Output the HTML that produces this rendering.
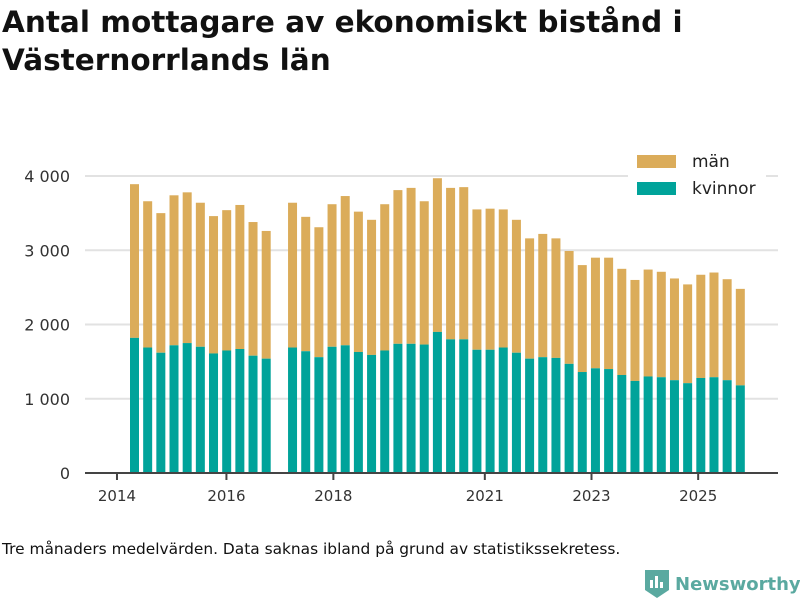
<!DOCTYPE html>
<html><head><meta charset="utf-8"><style>
body{margin:0;width:800px;height:600px;background:#fff;font-family:"DejaVu Sans","Liberation Sans",sans-serif;overflow:hidden;position:relative}
h1{position:absolute;left:2px;top:3px;margin:0;font-size:29.5px;line-height:38px;font-weight:bold;color:#111}
</style></head><body>
<h1>Antal mottagare av ekonomiskt bistånd i<br>Västernorrlands län</h1>
<svg id="c" width="800" height="600" style="position:absolute;left:0;top:0"></svg>
<script>
const women=[1820,1690,1620,1720,1750,1700,1610,1650,1670,1580,1540,null,1690,1640,1560,1700,1720,1630,1590,1650,1740,1740,1730,1900,1800,1800,1660,1660,1690,1620,1540,1560,1550,1470,1360,1410,1400,1320,1240,1300,1290,1250,1210,1280,1290,1250,1180];
const totals=[3890,3660,3500,3740,3780,3640,3460,3540,3610,3380,3260,null,3640,3450,3310,3620,3730,3520,3410,3620,3810,3840,3660,3970,3840,3850,3550,3560,3550,3410,3160,3220,3160,2990,2800,2900,2900,2750,2600,2740,2710,2620,2540,2670,2700,2610,2480];
const yTicks=[0,1000,2000,3000,4000];
const yTickLabels=["0","1 000","2 000","3 000","4 000"];
const xTickPos=[-1.33,6.98,15.1,26.6,34.7,42.8];
const xTickLabels=["2014","2016","2018","2021","2023","2025"];
const svg=document.getElementById('c');const NS='http://www.w3.org/2000/svg';
function y(v){return 473-v*0.07425;}
function x(i){return 134.5+i*13.17;}
function mk(t,a,p){const e=document.createElementNS(NS,t);for(const k in a)e.setAttribute(k,a[k]);(p||svg).appendChild(e);return e;}
yTicks.forEach((v,i)=>{
 if(v>0){const g=mk('line',{x1:85,x2:778,y1:y(v),y2:y(v),stroke:'#e2e2e2','stroke-width':2});
 
 }
 const t=mk('text',{x:70,y:y(v)+6,'text-anchor':'end','font-size':16,fill:'#333','font-family':'DejaVu Sans, sans-serif'});
 t.textContent=yTickLabels[i];
 
 
});
totals.forEach((tot,i)=>{
 if(tot==null)return;const w=women[i];
 const m=mk('rect',{x:x(i)-4.5,y:y(tot),width:9,height:y(w)-y(tot),fill:'#dbac5a'});
 
 
 const k=mk('rect',{x:x(i)-4.5,y:y(w),width:9,height:473-y(w),fill:'#00a39a'});
 
 
});
const ax=mk('line',{x1:85,x2:778,y1:473,y2:473,stroke:'#444','stroke-width':2});


xTickPos.forEach((p,i)=>{
 const l=mk('line',{x1:x(p),x2:x(p),y1:473,y2:480,stroke:'#444','stroke-width':2});
 
 
 const t=mk('text',{x:x(p),y:501,'text-anchor':'middle','font-size':15,fill:'#333','font-family':'DejaVu Sans, sans-serif'});
 t.textContent=xTickLabels[i];
 
 
});
const lb=mk('rect',{x:628,y:148,width:138,height:56,fill:'#fff'});


[['män','#dbac5a',155],['kvinnor','#00a39a',182]].forEach(d=>{
 const r=mk('rect',{x:637,y:d[2],width:39,height:13,fill:d[1]});
 
 
 const t=mk('text',{x:692,y:d[2]+12,'font-size':17,fill:'#222','font-family':'DejaVu Sans, sans-serif'});
 t.textContent=d[0];
 
 
});
</script>
<div style="position:absolute;left:2px;top:540px;font-size:15.4px;color:#111">Tre månaders medelvärden. Data saknas ibland på grund av statistikssekretess.</div>
<div style="position:absolute;left:645px;top:570px;display:flex;align-items:center">
<svg width="24" height="28" viewBox="0 0 24 28"><path d="M0 0H24V20L12 28L0 20Z" fill="#5aa9a0"/><rect x="5" y="10" width="3" height="8" fill="#fff"/><rect x="10" y="6" width="3" height="12" fill="#fff"/><rect x="15" y="12" width="3" height="6" fill="#fff"/></svg>
<span style="font-size:18px;font-weight:bold;color:#5aa9a0;margin-left:6px">Newsworthy</span></div>
</body></html>
